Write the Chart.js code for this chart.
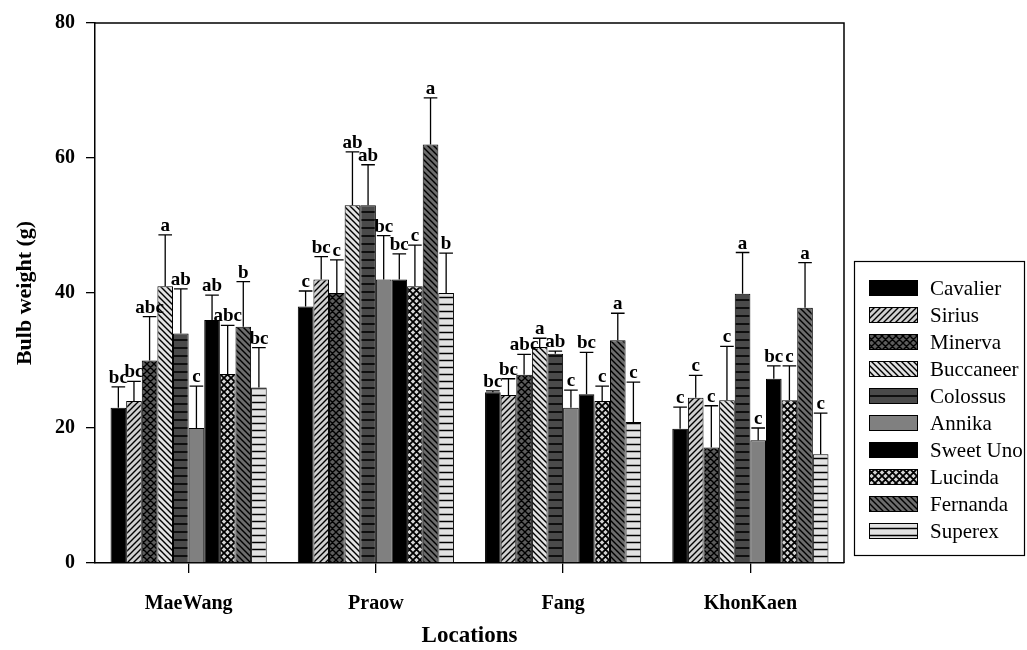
<!DOCTYPE html>
<html>
<head>
<meta charset="utf-8">
<script src="https://cdn.jsdelivr.net/npm/chart.js@4.4.1/dist/chart.umd.min.js"></script>
<style>
  html, body { margin: 0; padding: 0; background: #fff; }
  #chart { display: block; }
</style>
</head>
<body>
<canvas id="chart" width="1027" height="650"></canvas>
<script>
const locations = ['MaeWang', 'Praow', 'Fang', 'KhonKaen'];
const cultivars = ['Cavalier', 'Sirius', 'Minerva', 'Buccaneer', 'Colossus',
                   'Annika', 'Sweet Uno', 'Lucinda', 'Fernanda', 'Superex'];

// mean bulb weight (g) per location, in cultivar order
const maeWangMean  = [23, 24, 30, 41, 34, 20, 36, 28, 35, 26];
const praowMean    = [38, 42, 40, 53, 53, 42, 42, 41, 62, 40];
const fangMean     = [25.3, 24.9, 27.9, 32, 31, 23, 25, 24, 33, 20.9];
const khonKaenMean = [19.9, 24.5, 17.1, 24.1, 39.9, 18.2, 27.3, 24.1, 37.8, 16.1];

// upper error bar length (g)
const maeWangErr  = [3.1, 2.9, 6.5, 7.6, 6.6, 6.2, 3.7, 7.2, 6.7, 5.9];
const praowErr    = [2.3, 3.4, 4.9, 7.9, 6.0, 6.5, 3.8, 6.1, 6.9, 5.9];
const fangErr     = [0.2, 2.4, 3.0, 1.3, 0.4, 2.6, 6.2, 2.2, 4.0, 5.9];
const khonKaenErr = [3.2, 3.3, 6.2, 8.0, 6.1, 1.8, 1.9, 5.1, 6.7, 6.1];

// significance letters
const maeWangSig  = ['bc', 'bc', 'abc', 'a', 'ab', 'c', 'ab', 'abc', 'b', 'bc'];
const praowSig    = ['c', 'bc', 'c', 'ab', 'ab', 'bc', 'bc', 'c', 'a', 'b'];
const fangSig     = ['bc', 'bc', 'abc', 'a', 'ab', 'c', 'bc', 'c', 'a', 'c'];
const khonKaenSig = ['c', 'c', 'c', 'c', 'a', 'c', 'bc', 'c', 'a', 'c'];

const yTicks = [0, 20, 40, 60, 80];

const means = [maeWangMean, praowMean, fangMean, khonKaenMean];
const errs = [maeWangErr, praowErr, fangErr, khonKaenErr];
const sigs = [maeWangSig, praowSig, fangSig, khonKaenSig];

const SERIF = "'Liberation Serif', 'Times New Roman', serif";

// hatch fills, SigmaPlot style
function hatch(bg, kind, size, lw) {
    const c = document.createElement('canvas');
    c.width = size; c.height = size;
    const g = c.getContext('2d');
    g.fillStyle = bg;
    g.fillRect(0, 0, size, size);
    if (kind === 'solid') return g.createPattern(c, 'repeat');
    g.strokeStyle = '#000';
    g.lineWidth = lw;
    g.beginPath();
    const s = size;
    if (kind === 'fwd' || kind === 'cross') {
        g.moveTo(-1, s + 1); g.lineTo(s + 1, -1);
        g.moveTo(-s / 2 - 1, s / 2 + 1); g.lineTo(s / 2 + 1, -s / 2 - 1);
        g.moveTo(s / 2 - 1, 3 * s / 2 + 1); g.lineTo(3 * s / 2 + 1, s / 2 - 1);
    }
    if (kind === 'back' || kind === 'cross') {
        g.moveTo(-1, -1); g.lineTo(s + 1, s + 1);
        g.moveTo(-s / 2 - 1, s / 2 - 1); g.lineTo(s / 2 + 1, 3 * s / 2 + 1);
        g.moveTo(s / 2 - 1, -s / 2 - 1); g.lineTo(3 * s / 2 + 1, s / 2 + 1);
    }
    if (kind === 'horiz') {
        g.moveTo(0, s / 2); g.lineTo(s, s / 2);
    }
    g.stroke();
    return g.createPattern(c, 'repeat');
}

const fills = [
    hatch('#000000', 'solid', 4, 0),      // Cavalier
    hatch('#d0d0d0', 'fwd', 6, 1.4),      // Sirius
    hatch('#5c5c5c', 'cross', 7, 1.4),    // Minerva
    hatch('#e2e2e2', 'back', 6, 1.4),     // Buccaneer
    hatch('#4a4a4a', 'horiz', 8, 1.6),    // Colossus
    hatch('#808080', 'solid', 4, 0),      // Annika
    hatch('#000000', 'solid', 4, 0),      // Sweet Uno
    hatch('#d4d4d4', 'cross', 7, 1.8),    // Lucinda
    hatch('#6c6c6c', 'back', 6, 1.4),     // Fernanda
    hatch('#e2e2e2', 'horiz', 7, 1.5)     // Superex
];

const errorsAndFrame = {
    id: 'errorsAndFrame',
    afterDatasetsDraw(chart) {
        const { ctx, chartArea: a, scales: { y } } = chart;
        ctx.save();
        ctx.strokeStyle = '#000';
        ctx.lineWidth = 1.3;
        const tops = [];
        chart.data.datasets.forEach((ds, i) => {
            const meta = chart.getDatasetMeta(i);
            meta.data.forEach((bar, j) => {
                const yErr = y.getPixelForValue(means[j][i] + errs[j][i]);
                const half = bar.width / 2 - 1;
                ctx.beginPath();
                ctx.moveTo(bar.x, bar.y);
                ctx.lineTo(bar.x, yErr);
                ctx.moveTo(bar.x - half, yErr);
                ctx.lineTo(bar.x + half, yErr);
                ctx.stroke();
                tops.push([bar.x, yErr, sigs[j][i]]);
            });
        });
        ctx.fillStyle = '#000';
        ctx.font = 'bold 19px ' + SERIF;
        ctx.textAlign = 'center';
        ctx.textBaseline = 'alphabetic';
        tops.forEach(([x, yy, t]) => ctx.fillText(t, x, yy - 4));

        // top and right sides of the frame
        ctx.lineWidth = 1.5;
        ctx.beginPath();
        ctx.moveTo(a.left, a.top);
        ctx.lineTo(a.right, a.top);
        ctx.lineTo(a.right, a.bottom);
        ctx.stroke();
        ctx.restore();
    },
    afterDraw(chart) {
        const { ctx } = chart;
        const box = { x: 854, y: 261, w: 170, h: 294 };
        const rowTop = 288, pitch = 27;
        ctx.save();
        ctx.strokeStyle = '#000';
        ctx.lineWidth = 1.2;
        ctx.strokeRect(box.x + 0.5, box.y + 0.5, box.w, box.h);
        ctx.font = '21px ' + SERIF;
        ctx.textBaseline = 'middle';
        ctx.textAlign = 'left';
        ctx.fillStyle = '#000';
        chart.data.datasets.forEach((ds, i) => {
            const cy = rowTop + i * pitch;
            ctx.fillStyle = ds.backgroundColor;
            ctx.fillRect(869, cy - 8, 49, 16);
            ctx.lineWidth = 1;
            ctx.strokeRect(869.5, cy - 7.5, 48, 15);
            ctx.fillStyle = '#000';
            ctx.fillText(ds.label, 930, cy + 1);
        });
        ctx.restore();
    }
};

new Chart(document.getElementById('chart'), {
    type: 'bar',
    data: {
        labels: locations,
        datasets: cultivars.map((name, i) => ({
            label: name,
            data: means.map(arr => arr[i]),
            backgroundColor: fills[i],
            borderColor: '#000',
            borderWidth: 1,
            barPercentage: 1,
            categoryPercentage: 0.834
        }))
    },
    options: {
        responsive: false,
        animation: false,
        layout: { padding: { top: 22, right: 183, left: 0, bottom: 0 } },
        plugins: { legend: { display: false }, tooltip: { enabled: false } },
        scales: {
            x: {
                grid: { drawOnChartArea: false, offset: false, tickLength: 10, color: '#000', lineWidth: 1.3 },
                border: { color: '#000', width: 1.5 },
                ticks: { color: '#000', padding: 19, font: { family: SERIF, size: 20, weight: 'bold' } },
                title: {
                    display: true, text: 'Locations', color: '#000',
                    font: { family: SERIF, size: 23, weight: 'bold' },
                    padding: { top: 0, bottom: 0 }
                },
                afterFit(s) { s.height = 87; }
            },
            y: {
                min: 0, max: 80,
                afterBuildTicks(s) { s.ticks = yTicks.map(v => ({ value: v })); },
                grid: { drawOnChartArea: false, tickLength: 9, color: '#000', lineWidth: 1.3 },
                border: { color: '#000', width: 1.5 },
                ticks: { color: '#000', padding: 11, font: { family: SERIF, size: 20, weight: 'bold' } },
                title: {
                    display: true, text: 'Bulb weight (g)', color: '#000',
                    font: { family: SERIF, size: 22, weight: 'bold' },
                    padding: { top: 12, bottom: 0 }
                },
                afterFit(s) { s.width = 95; }
            }
        }
    },
    plugins: [errorsAndFrame]
});
</script>
</body>
</html>
